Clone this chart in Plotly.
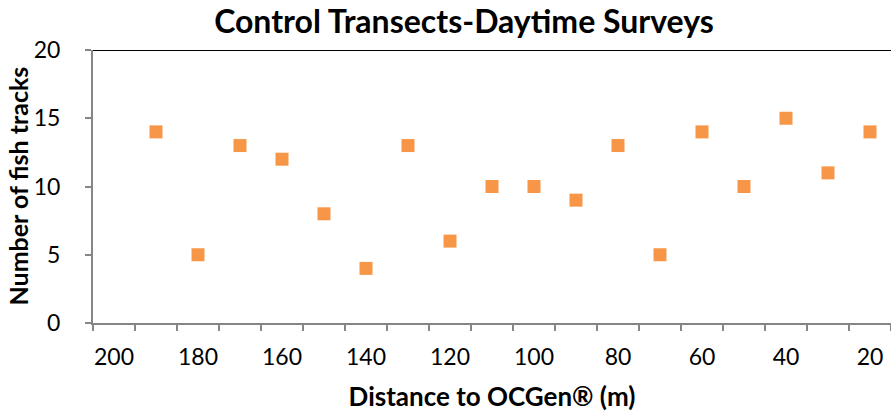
import plotly.graph_objects as go

distance = [190, 180, 170, 160, 150, 140, 130, 120, 110, 100, 90, 80, 70, 60, 50, 40, 30, 20]
tracks = [14, 5, 13, 12, 8, 4, 13, 6, 10, 10, 9, 13, 5, 14, 10, 15, 11, 14]
x_ticks = [200, 180, 160, 140, 120, 100, 80, 60, 40, 20]
x_bounds = [205 - 10 * i for i in range(20)]
y_ticks = [0, 5, 10, 15, 20]

font = "Lato, 'Open Sans', sans-serif"

fig = go.Figure()
fig.add_trace(go.Scatter(
    x=distance, y=tracks, mode="markers",
    marker=dict(symbol="square", size=13, color="#F79646", line=dict(width=0)),
    showlegend=False, cliponaxis=False,
))

fig.update_layout(
    width=891, height=418,
    margin=dict(l=93, r=0, t=50, b=95, autoexpand=False),
    paper_bgcolor="white", plot_bgcolor="white",
    title=dict(text="<b>Control Transects-Daytime Surveys</b>", x=464 / 891, xanchor="center",
               xref="container", yref="container",
               y=1 - 22 / 418, yanchor="middle", automargin=False,
               font=dict(family=font, size=32, color="black")),
    font=dict(family=font, size=23, color="black"),
)
fig.update_xaxes(
    range=[205, 15], showgrid=False, zeroline=False, automargin=False,
    showline=True, linecolor="#868686", linewidth=2,
    tickvals=x_ticks, ticks="", ticklen=0, ticklabelstandoff=12,
    tickfont=dict(size=23, color="black"),
    minor=dict(tickvals=x_bounds, ticks="outside", ticklen=6, tickcolor="#868686", tickwidth=2),
    title=dict(text="<b>Distance to OCGen® (m)</b>", font=dict(size=26), standoff=19),
)
fig.update_yaxes(
    range=[0, 20], showgrid=False, zeroline=False, automargin=False,
    showline=True, linecolor="#868686", linewidth=2,
    tickvals=y_ticks, ticks="outside", ticklen=6, tickcolor="#868686", tickwidth=2,
    ticklabelstandoff=20,
    tickfont=dict(size=23, color="black"),
)
fig.add_annotation(text="<b>Number of fish tracks</b>", xref="paper", yref="paper",
                   x=(17 - 93) / 798, y=0.5, xanchor="center", yanchor="middle",
                   textangle=-90, showarrow=False, font=dict(family=font, size=25, color="black"))
fig.add_shape(type="line", xref="paper", yref="y", x0=0, x1=1, y0=20, y1=20,
              line=dict(color="black", width=2))

fig.write_html("out.html", config={"displayModeBar": False},
               post_script="document.body.style.margin='0';")
